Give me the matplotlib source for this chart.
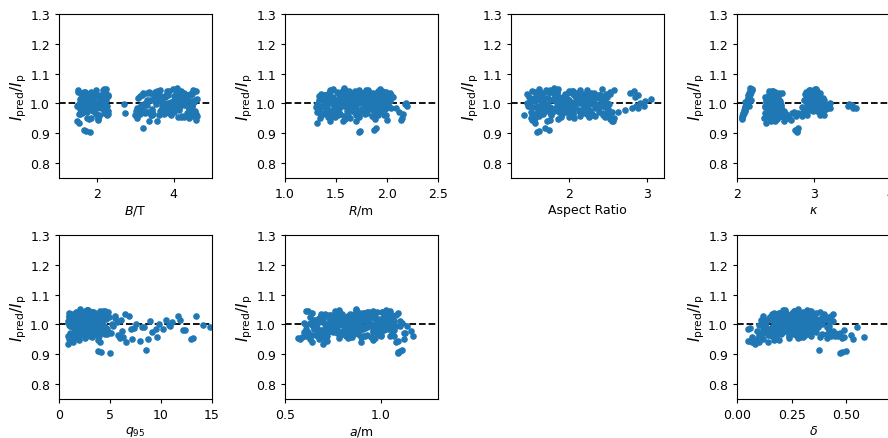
import numpy as np
import matplotlib
matplotlib.use('Agg')
import matplotlib.pyplot as plt

# I_pred / I_p for every shot (same order in every parameter list below)
ratio = [
    0.952, 0.961, 0.968, 0.957, 0.974, 0.983, 0.979, 0.991, 0.987, 0.996,
    1.002, 0.998, 1.008, 1.013, 1.006, 1.019, 1.024, 1.016, 1.031, 1.027,
    1.037, 1.042, 1.035, 1.048, 1.053, 1.045, 1.011, 0.993,
    0.935, 0.942, 0.948, 0.953, 0.958, 0.962, 0.967, 0.971, 0.976, 0.980,
    0.984, 0.988, 0.992, 0.996, 1.000, 1.004, 1.008, 1.012, 1.016, 1.020,
    1.024, 1.028, 1.032, 1.036, 1.040, 0.945, 0.955, 0.965, 0.975, 0.985,
    0.995, 1.005, 1.015, 1.025, 1.035, 0.950, 0.960, 0.970, 0.982, 0.993,
    1.003, 1.013, 1.022, 1.031, 0.940, 0.957, 0.944, 0.963, 0.951, 0.969,
    0.962, 0.968, 0.974, 0.979, 0.983, 0.987, 0.991, 0.995, 0.999, 1.003,
    1.006, 1.010, 1.013, 1.017, 1.020, 1.024, 1.027, 1.031, 1.034, 1.038,
    1.041, 1.045, 1.049, 0.971, 0.977, 0.985, 0.993, 1.001, 1.009, 1.015,
    1.022, 1.029, 1.036, 1.043, 0.966, 0.981, 0.997, 1.011, 1.026, 1.040,
    0.975, 0.989, 1.004, 1.018, 1.033, 0.958, 0.994, 1.007, 1.021, 1.030,
    0.986, 1.000, 1.014, 1.028, 1.046,
    0.972, 0.958, 0.965, 0.950, 0.978, 0.990, 0.985, 0.995, 0.983, 0.998,
    0.988, 0.960, 0.968,
    0.905, 0.912, 0.916, 0.909,
    0.964, 0.986, 1.009, 1.031, 0.973, 0.997, 1.019, 1.041, 0.981, 1.004,
    1.026, 0.969, 0.992, 1.014, 1.036, 0.977, 1.001, 1.023, 1.044, 0.959,
    0.989, 1.011, 1.033, 0.966, 0.994, 1.016, 1.038, 0.978, 1.006, 1.028,
    0.971, 0.999, 1.021, 1.043, 0.984, 1.007, 1.029, 0.963, 0.991, 1.012,
    1.034, 0.975, 1.002, 1.024, 1.047, 0.968, 0.996, 1.018, 1.039, 0.982,
    1.005, 1.027, 0.961, 0.988, 1.010, 1.032, 0.973, 0.998, 1.020, 1.042,
    0.980, 1.003, 1.025, 0.956, 0.993, 1.015, 1.037, 0.970, 1.000, 1.022,
    0.947, 0.985, 1.008, 1.030, 0.965, 0.995, 1.017, 1.040, 0.979, 1.002,
    1.026, 0.953, 0.990, 1.013, 1.035, 0.972, 0.999, 1.021, 1.044, 0.983,
    1.006, 1.028, 0.960, 0.987, 1.011, 1.033, 0.976, 1.004, 1.023, 0.941,
]

B_T = [
    3.05, 3.42, 3.88, 4.21, 4.55, 3.17, 3.66, 4.02, 4.38, 3.29,
    3.74, 4.12, 4.47, 3.53, 3.95, 4.30, 3.11, 3.60, 4.05, 4.43,
    3.36, 3.82, 4.26, 3.98, 4.09, 4.51, 3.47, 3.70,
    1.52, 3.35, 1.78, 4.12, 2.05, 3.62, 1.61, 4.48, 2.21, 3.08,
    1.87, 3.91, 1.49, 4.27, 1.95, 3.54, 2.13, 4.03, 1.69, 3.77,
    2.27, 4.36, 1.58, 3.19, 1.83, 4.58, 2.01, 3.46, 1.74, 3.85,
    2.17, 4.19, 1.63, 3.68, 1.91, 4.41, 2.25, 3.27, 1.55, 3.99,
    2.09, 4.07, 1.81, 3.58, 1.47, 4.52, 2.03, 3.13, 1.72, 2.72,
    2.98, 1.57, 3.44, 4.15, 1.92, 3.71, 4.49, 2.18, 3.23, 3.96,
    1.66, 4.33, 3.52, 2.07, 4.06, 3.80, 1.79, 4.24, 3.38, 1.50,
    4.59, 3.64, 2.23, 4.01, 3.15, 1.86, 4.40, 3.89, 1.70, 3.57,
    4.17, 2.11, 3.31, 4.54, 1.98, 3.76, 4.29, 1.60, 3.49, 4.10,
    2.29, 3.93, 4.45, 1.76, 3.21, 4.62, 2.02, 3.67, 4.35, 1.89,
    3.03, 4.22, 1.54, 3.86, 2.15,
    1.62, 4.32, 2.28, 1.85, 3.72, 4.48, 1.99, 3.25, 4.14, 2.70,
    1.73, 3.93, 2.19,
    1.80, 1.66, 3.20, 1.70,
    1.53, 3.12, 1.71, 3.48, 1.89, 3.83, 2.07, 4.18, 2.24, 4.53,
    1.60, 3.26, 1.78, 3.61, 1.96, 3.97, 2.14, 4.31, 1.49, 4.44,
    1.67, 3.39, 1.85, 3.74, 2.03, 4.08, 2.20, 4.39, 1.56, 3.18,
    1.74, 3.53, 1.93, 3.88, 2.10, 4.23, 2.28, 4.57, 1.63, 3.30,
    1.81, 3.65, 2.00, 4.00, 2.17, 4.34, 1.51, 3.07, 1.69, 3.44,
    1.87, 3.79, 2.05, 4.13, 2.22, 4.48, 1.58, 3.22, 1.76, 3.57,
    1.94, 3.92, 2.12, 4.27, 1.46, 4.60, 1.65, 3.35, 1.83, 3.70,
    2.01, 4.04, 2.19, 4.42, 1.54, 3.14, 1.72, 3.50, 1.90, 3.85,
    2.08, 4.20, 2.26, 4.55, 1.61, 3.28, 1.79, 3.63, 1.97, 3.99,
    2.15, 4.36, 3.41, 3.76, 4.11, 4.46, 3.02, 3.93, 4.25, 3.55,
]

R_m = [
    1.34, 1.52, 1.71, 1.88, 1.45, 1.63, 1.79, 1.96, 1.38, 1.57,
    1.74, 1.91, 1.49, 1.66, 1.83, 2.01, 1.42, 1.60, 1.77, 1.94,
    1.55, 1.69, 1.86, 1.47, 1.58, 1.81, 1.99, 1.64,
    1.31, 1.44, 1.59, 1.73, 1.86, 1.97, 1.36, 1.51, 1.66, 1.80,
    1.93, 1.33, 1.48, 1.62, 1.77, 1.90, 2.03, 1.39, 1.54, 1.69,
    1.84, 1.98, 1.42, 1.57, 1.72, 2.14, 1.87, 1.35, 1.50, 1.65,
    1.79, 1.94, 1.46, 1.61, 1.76, 2.15, 1.91, 1.32, 1.53, 1.68,
    1.82, 1.96, 1.40, 1.56, 1.70, 1.85, 2.00, 1.37, 1.64, 1.78,
    1.35, 1.47, 1.61, 1.75, 1.89, 2.02, 1.41, 1.55, 1.69, 1.83,
    1.96, 1.33, 1.50, 1.64, 1.78, 1.92, 1.38, 1.53, 1.67, 1.81,
    1.95, 1.44, 1.58, 1.72, 1.86, 1.99, 1.36, 1.49, 1.63, 1.76,
    1.90, 2.04, 1.43, 1.57, 1.71, 1.85, 2.18, 1.52, 1.66, 1.80,
    1.94, 1.34, 1.46, 1.60, 1.74, 1.88, 2.01, 1.39, 1.56, 1.70,
    1.84, 2.19, 1.45, 1.59, 1.73,
    2.12, 1.58, 2.16, 1.44, 1.91, 2.20, 1.77, 1.62, 2.09, 1.86,
    1.30, 1.99, 1.70,
    1.73, 1.87, 1.89, 1.74,
    1.36, 1.52, 1.68, 1.84, 1.43, 1.59, 1.75, 1.91, 1.32, 1.48,
    1.64, 1.80, 1.96, 1.39, 1.55, 1.71, 1.87, 2.02, 1.46, 1.62,
    1.78, 1.94, 1.35, 1.51, 1.67, 1.83, 1.99, 1.42, 1.58, 1.74,
    1.90, 1.31, 1.47, 1.63, 1.79, 1.95, 1.38, 1.54, 1.70, 1.86,
    2.03, 1.45, 1.61, 1.77, 1.93, 1.34, 1.50, 1.66, 1.82, 1.98,
    1.41, 1.57, 1.73, 1.89, 1.37, 1.53, 1.69, 1.85, 1.44, 1.60,
    1.76, 1.92, 1.33, 1.49, 1.65, 1.81, 1.97, 1.40, 1.56, 1.72,
    1.88, 2.04, 1.46, 1.62, 1.78, 1.94, 1.35, 1.51, 1.67, 1.83,
    1.99, 1.42, 1.58, 1.74, 1.90, 1.31, 1.47, 1.63, 1.79, 1.95,
    1.38, 1.54, 1.70, 1.86, 1.44, 1.60, 1.76, 1.92, 2.06, 1.57,
]

aspect = [
    1.52, 1.78, 2.05, 2.33, 1.61, 1.89, 2.17, 2.45, 1.70, 1.95,
    2.24, 2.51, 1.57, 1.84, 2.11, 2.39, 1.66, 1.92, 2.20, 2.48,
    1.75, 2.01, 2.29, 1.63, 1.81, 2.14, 2.42, 1.98,
    1.58, 1.72, 1.86, 2.01, 2.15, 2.29, 2.43, 2.55, 1.64, 1.79,
    1.93, 2.08, 2.22, 2.36, 2.49, 1.51, 1.68, 1.83, 1.98, 2.12,
    2.26, 2.40, 2.52, 1.61, 1.75, 1.54, 1.90, 2.05, 2.19, 2.33,
    2.46, 1.66, 1.81, 1.96, 2.10, 1.57, 2.24, 2.38, 2.50, 1.70,
    1.85, 2.00, 2.14, 2.28, 2.55, 1.62, 1.77, 1.92, 2.07, 2.21,
    1.43, 1.62, 1.81, 2.00, 2.19, 2.38, 1.50, 1.69, 1.88, 2.07,
    2.26, 2.45, 1.55, 1.74, 1.93, 2.12, 2.31, 1.47, 1.66, 1.85,
    2.04, 2.23, 2.42, 2.63, 2.72, 2.80, 2.86, 2.91, 2.97, 3.05,
    2.84, 2.88, 2.78, 2.83, 1.59, 1.78, 1.97, 2.16, 2.35, 2.52,
    1.71, 1.90, 2.09, 2.28, 2.47, 1.53, 1.95, 2.14, 2.33, 1.64,
    1.83, 2.02, 2.21, 2.40, 1.76,
    1.88, 2.46, 1.67, 2.58, 2.13, 2.95, 2.06, 1.73, 2.88, 2.31,
    1.55, 2.51, 2.01,
    1.60, 1.75, 1.70, 1.62,
    1.55, 1.73, 1.91, 2.09, 2.27, 2.45, 1.62, 1.80, 1.98, 2.16,
    2.34, 2.52, 1.49, 1.67, 1.85, 2.03, 2.21, 2.39, 2.57, 1.58,
    1.76, 1.94, 2.12, 2.30, 2.48, 1.65, 1.83, 2.01, 2.19, 2.37,
    1.52, 1.70, 1.88, 2.06, 2.24, 2.42, 1.60, 1.78, 1.96, 2.14,
    2.32, 2.50, 1.47, 1.68, 1.86, 2.04, 2.22, 2.40, 1.57, 1.75,
    1.93, 2.11, 2.29, 2.47, 1.64, 1.82, 2.00, 2.18, 2.36, 1.54,
    1.72, 1.90, 2.08, 2.26, 2.44, 1.61, 1.79, 1.97, 2.15, 2.33,
    2.53, 1.69, 1.87, 2.05, 2.23, 2.41, 1.56, 1.74, 1.92, 2.10,
    2.28, 2.46, 1.63, 1.81, 1.99, 2.17, 2.35, 1.50, 1.71, 1.89,
    2.07, 2.25, 2.43, 1.59, 1.77, 1.95, 2.13, 2.31, 2.49, 2.56,
]

kappa = [
    2.07, 2.08, 2.09, 2.06, 2.10, 2.11, 2.09, 2.12, 2.10, 2.13,
    2.12, 2.14, 2.13, 2.15, 2.11, 2.14, 2.16, 2.15, 2.17, 2.14,
    2.18, 2.17, 2.16, 2.19, 2.17, 2.20, 2.18, 2.15,
    2.38, 2.45, 2.52, 2.40, 2.58, 2.47, 2.36, 2.55, 2.43, 2.50,
    2.39, 2.57, 2.46, 2.53, 2.41, 2.49, 2.56, 2.44, 2.51, 2.37,
    2.48, 2.54, 2.42, 2.59, 2.50, 2.46, 2.53, 2.40, 2.61, 2.44,
    2.57, 2.38, 2.52, 2.47, 2.55, 2.35, 2.49, 2.43, 2.58, 2.36,
    2.54, 2.45, 2.51, 2.48, 2.62, 2.66, 2.70, 2.64, 2.68, 2.72,
    2.92, 2.88, 3.05, 2.95, 3.10, 2.90, 3.00, 3.15, 2.97, 3.08,
    2.93, 3.03, 2.89, 3.12, 2.99, 3.06, 2.91, 3.01, 3.09, 2.96,
    3.04, 2.94, 3.02, 2.86, 3.13, 3.18, 2.98, 3.11, 2.90, 3.07,
    2.95, 3.00, 3.05, 2.97, 2.87, 3.16, 3.20, 3.14, 2.93, 3.03,
    2.99, 3.19, 2.92, 3.08, 2.96, 2.85, 3.17, 3.10, 3.04, 2.98,
    3.21, 3.22, 3.06, 2.91, 3.01,
    2.74, 2.77, 2.83, 2.65, 2.87, 3.45, 3.52, 3.50, 3.55, 3.47,
    2.85, 2.62, 2.80,
    2.78, 2.76, 2.80, 2.79,
    2.08, 2.44, 2.97, 2.52, 3.06, 2.12, 2.91, 2.47, 3.11, 2.39,
    2.16, 2.56, 3.00, 2.43, 2.94, 2.10, 3.07, 2.49, 3.02, 2.57,
    2.11, 2.46, 2.89, 2.41, 3.13, 2.14, 2.98, 2.53, 2.93, 2.45,
    2.09, 2.50, 3.05, 2.42, 2.90, 2.13, 3.01, 2.38, 3.09, 2.55,
    2.17, 2.48, 2.96, 2.54, 3.03, 2.08, 2.92, 2.40, 2.99, 2.58,
    2.13, 2.44, 3.08, 2.37, 2.88, 2.16, 3.12, 2.51, 2.95, 2.46,
    2.10, 2.53, 3.06, 2.42, 2.97, 2.14, 2.90, 2.60, 3.02, 2.39,
    2.07, 2.47, 2.94, 2.50, 3.10, 2.12, 2.98, 2.43, 2.91, 2.56,
    2.15, 2.45, 3.04, 2.38, 2.93, 2.09, 3.00, 2.52, 2.96, 2.41,
    2.13, 2.48, 3.14, 2.54, 2.89, 2.17, 3.07, 2.44, 3.01, 2.50,
]

q95 = [
    12.9, 1.3, 2.2, 9.6, 3.1, 1.8, 4.4, 2.6, 7.4, 1.1,
    3.6, 10.8, 2.0, 4.0, 1.5, 2.9, 3.8, 6.1, 1.2, 11.7,
    2.4, 3.3, 1.7, 2.7, 2.1, 4.3, 8.9, 3.0,
    0.9, 1.4, 2.0, 2.6, 3.2, 3.9, 4.5, 1.1, 1.7, 2.3,
    2.9, 3.5, 4.2, 5.3, 1.3, 1.9, 2.5, 3.1, 3.7, 4.6,
    1.0, 1.6, 2.2, 2.8, 3.4, 7.9, 13.1, 5.8, 9.1, 10.2,
    1.2, 2.4, 3.6, 4.9, 6.5, 8.7, 1.5, 2.7, 12.4, 14.8,
    3.8, 1.8, 2.1, 3.3, 4.0, 2.6, 1.3, 3.0, 0.95, 4.7,
    1.1, 1.8, 2.5, 3.2, 3.9, 4.6, 1.4, 2.1, 2.8, 3.5,
    4.2, 0.9, 1.6, 2.3, 3.0, 3.7, 4.4, 1.2, 1.9, 2.6,
    3.3, 4.0, 2.7, 5.1, 6.2, 7.1, 8.3, 9.8, 11.1, 11.9,
    5.5, 6.9, 3.4, 4.8, 1.5, 2.2, 2.9, 3.6, 4.3, 1.0,
    1.7, 2.4, 3.1, 3.8, 4.5, 1.3, 2.0, 5.7, 3.5, 4.1,
    2.6, 7.6, 10.5, 13.4, 2.8,
    4.7, 6.3, 1.6, 7.2, 3.9, 8.1, 9.5, 10.9, 12.2, 14.1,
    2.3, 5.9, 3.6,
    5.0, 3.8, 8.5, 4.1,
    1.2, 2.0, 2.8, 3.6, 4.4, 1.5, 2.3, 3.1, 3.9, 1.0,
    1.8, 2.6, 3.4, 4.2, 1.3, 2.1, 2.9, 3.7, 4.5, 1.6,
    2.4, 3.2, 4.0, 1.1, 1.9, 2.7, 3.5, 4.3, 1.4, 2.2,
    3.0, 3.8, 4.6, 1.7, 2.5, 3.3, 4.1, 0.9, 1.5, 2.3,
    3.1, 3.9, 1.2, 2.0, 2.8, 3.6, 4.4, 1.8, 2.6, 3.4,
    4.2, 1.0, 1.3, 2.1, 2.9, 3.7, 4.5, 1.6, 2.4, 3.2,
    4.0, 5.2, 1.1, 1.9, 2.7, 3.5, 4.3, 1.4, 2.2, 3.0,
    3.8, 4.7, 1.7, 2.5, 3.3, 4.1, 1.2, 2.0, 2.8, 3.6,
    4.4, 6.0, 1.5, 2.3, 3.1, 3.9, 1.0, 1.8, 2.6, 3.4,
    4.2, 5.5, 1.3, 2.1, 2.9, 3.7, 4.8, 1.6, 2.4, 6.6,
]

a_m = [
    0.63, 0.72, 0.81, 0.90, 0.99, 1.07, 0.67, 0.76, 0.85, 0.94,
    1.03, 0.61, 0.70, 0.79, 0.88, 0.97, 1.05, 0.65, 0.74, 0.83,
    0.92, 1.01, 0.69, 0.78, 0.87, 0.96, 1.10, 0.82,
    0.70, 0.64, 0.71, 0.78, 0.85, 0.92, 0.99, 1.06, 0.62, 0.69,
    0.76, 0.83, 0.90, 0.97, 1.04, 0.60, 0.67, 0.74, 0.81, 0.88,
    0.95, 1.02, 0.73, 0.80, 0.87, 1.09, 0.57, 0.66, 0.84, 0.91,
    0.98, 0.75, 0.82, 0.89, 0.96, 1.12, 1.17, 0.70, 0.86, 0.93,
    1.00, 0.77, 0.79, 0.94, 1.08, 0.59, 0.72, 1.05, 0.68, 0.88,
    0.61, 0.68, 0.75, 0.82, 0.89, 0.96, 1.03, 1.10, 0.64, 0.71,
    0.78, 0.85, 0.92, 0.99, 1.06, 0.63, 0.70, 0.77, 0.84, 0.91,
    0.98, 1.05, 0.87, 1.13, 0.74, 0.81, 0.88, 0.95, 1.02, 0.66,
    0.73, 0.80, 0.86, 0.93, 1.00, 0.76, 0.83, 0.90, 0.97, 1.04,
    0.60, 0.67, 0.74, 0.81, 0.88, 0.95, 1.14, 0.79, 0.86, 0.93,
    1.01, 0.72, 0.89, 0.96, 0.62,
    1.12, 0.69, 0.93, 0.58, 1.16, 0.84, 0.61, 1.08, 0.77, 0.95,
    0.65, 1.07, 0.80,
    1.09, 1.10, 1.11, 1.09,
    0.66, 0.74, 0.82, 0.90, 0.98, 1.06, 0.70, 0.78, 0.86, 0.94,
    1.02, 0.62, 0.72, 0.80, 0.88, 0.96, 1.04, 0.68, 0.76, 0.84,
    0.92, 1.00, 1.08, 0.64, 0.73, 0.81, 0.89, 0.97, 1.05, 0.69,
    0.77, 0.85, 0.93, 1.01, 0.65, 0.75, 0.83, 0.91, 0.99, 1.07,
    0.71, 0.79, 0.87, 0.95, 1.03, 0.67, 0.76, 0.84, 0.92, 1.00,
    0.63, 0.74, 0.82, 0.90, 0.98, 1.06, 0.70, 0.78, 0.86, 0.94,
    1.02, 0.66, 0.75, 0.83, 0.91, 0.99, 1.09, 0.72, 0.80, 0.88,
    0.96, 1.04, 0.68, 0.77, 0.85, 0.93, 1.01, 0.64, 0.73, 0.81,
    0.89, 0.97, 1.05, 0.69, 0.79, 0.87, 0.95, 1.03, 0.61, 0.76,
    0.84, 0.92, 1.00, 0.71, 0.80, 0.88, 0.96, 1.11, 0.74, 0.90,
]

delta = [
    0.12, 0.18, 0.24, 0.30, 0.36, 0.42, 0.15, 0.21, 0.27, 0.33,
    0.39, 0.10, 0.17, 0.23, 0.29, 0.35, 0.41, 0.14, 0.20, 0.26,
    0.32, 0.38, 0.16, 0.22, 0.28, 0.34, 0.44, 0.25,
    0.08, 0.14, 0.19, 0.24, 0.29, 0.34, 0.39, 0.11, 0.17, 0.22,
    0.27, 0.32, 0.37, 0.42, 0.13, 0.18, 0.23, 0.28, 0.33, 0.38,
    0.16, 0.21, 0.26, 0.31, 0.36, 0.06, 0.48, 0.10, 0.20, 0.25,
    0.30, 0.35, 0.40, 0.15, 0.44, 0.09, 0.46, 0.12, 0.19, 0.24,
    0.29, 0.34, 0.22, 0.27, 0.07, 0.49, 0.05, 0.43, 0.53, 0.41,
    0.11, 0.16, 0.21, 0.26, 0.31, 0.36, 0.41, 0.13, 0.18, 0.23,
    0.28, 0.33, 0.38, 0.15, 0.20, 0.25, 0.30, 0.35, 0.40, 0.17,
    0.22, 0.27, 0.32, 0.45, 0.09, 0.14, 0.19, 0.24, 0.29, 0.34,
    0.39, 0.12, 0.17, 0.22, 0.27, 0.32, 0.37, 0.42, 0.20, 0.25,
    0.30, 0.35, 0.18, 0.23, 0.28, 0.58, 0.21, 0.26, 0.31, 0.19,
    0.24, 0.29, 0.36, 0.43, 0.26,
    0.47, 0.07, 0.52, 0.09, 0.44, 0.55, 0.05, 0.31, 0.49, 0.27,
    0.06, 0.45, 0.33,
    0.47, 0.50, 0.375, 0.48,
    0.14, 0.19, 0.24, 0.29, 0.34, 0.17, 0.22, 0.27, 0.32, 0.37,
    0.15, 0.20, 0.25, 0.30, 0.35, 0.18, 0.23, 0.28, 0.33, 0.38,
    0.16, 0.21, 0.26, 0.31, 0.36, 0.13, 0.19, 0.24, 0.29, 0.40,
    0.17, 0.22, 0.27, 0.32, 0.12, 0.20, 0.25, 0.30, 0.35, 0.18,
    0.23, 0.28, 0.33, 0.15, 0.21, 0.26, 0.31, 0.36, 0.19, 0.24,
    0.29, 0.34, 0.16, 0.22, 0.27, 0.32, 0.14, 0.20, 0.25, 0.30,
    0.35, 0.18, 0.23, 0.28, 0.33, 0.11, 0.21, 0.26, 0.31, 0.39,
    0.17, 0.24, 0.29, 0.34, 0.15, 0.22, 0.27, 0.32, 0.19, 0.25,
    0.30, 0.41, 0.16, 0.23, 0.28, 0.33, 0.13, 0.20, 0.26, 0.31,
    0.36, 0.18, 0.24, 0.29, 0.21, 0.27, 0.32, 0.37, 0.19, 0.10,
]

xlabels = ['$B$/T', '$R$/m', 'Aspect Ratio', r'$\kappa$',
           '$q_{95}$', '$a$/m', r'$\delta$']
xdata = [B_T, R_m, aspect, kappa, q95, a_m, delta]
xlims = [(1.0, 5.0), (1.0, 2.5), (1.27, 3.21), (2.0, 4.0),
         (0.0, 15.0), (0.5, 1.3), (0.0, 0.7)]
xticks = [[2, 4], [1.0, 1.5, 2.0, 2.5], [2, 3], [2, 3, 4],
          [0, 5, 10, 15], [0.5, 1.0], [0.0, 0.25, 0.50]]
# grid cell (row, col) of each panel; cell (1, 2) stays empty
cells = [(0, 0), (0, 1), (0, 2), (0, 3), (1, 0), (1, 1), (1, 3)]

plt.rcParams['font.size'] = 9
fig = plt.figure(figsize=(8.88, 4.39), dpi=100)
lefts = [0.0664, 0.3209, 0.5755, 0.830]
bottoms = [0.5923, 0.0888]
w, h = 0.1723, 0.3736

for i in range(7):
    r, c = cells[i]
    ax = fig.add_axes([lefts[c], bottoms[r], w, h])
    ax.axhline(1.0, color='k', ls='--', lw=1.3, zorder=1)
    ax.scatter(xdata[i], ratio, s=14, color='#1f77b4', zorder=2)
    ax.set_xlim(xlims[i])
    ax.set_xticks(xticks[i])
    if i == 6:
        ax.set_xticklabels(['0.00', '0.25', '0.50'])
    ax.set_ylim(0.75, 1.3)
    ax.set_yticks([0.8, 0.9, 1.0, 1.1, 1.2, 1.3])
    ax.tick_params(labelsize=9, length=3)
    ax.set_xlabel(xlabels[i], fontsize=9, labelpad=2)
    ax.set_ylabel(r'$I_{\rm pred}/I_{\rm p}$', fontsize=11, labelpad=1)

fig.savefig('out.png', dpi=100)
